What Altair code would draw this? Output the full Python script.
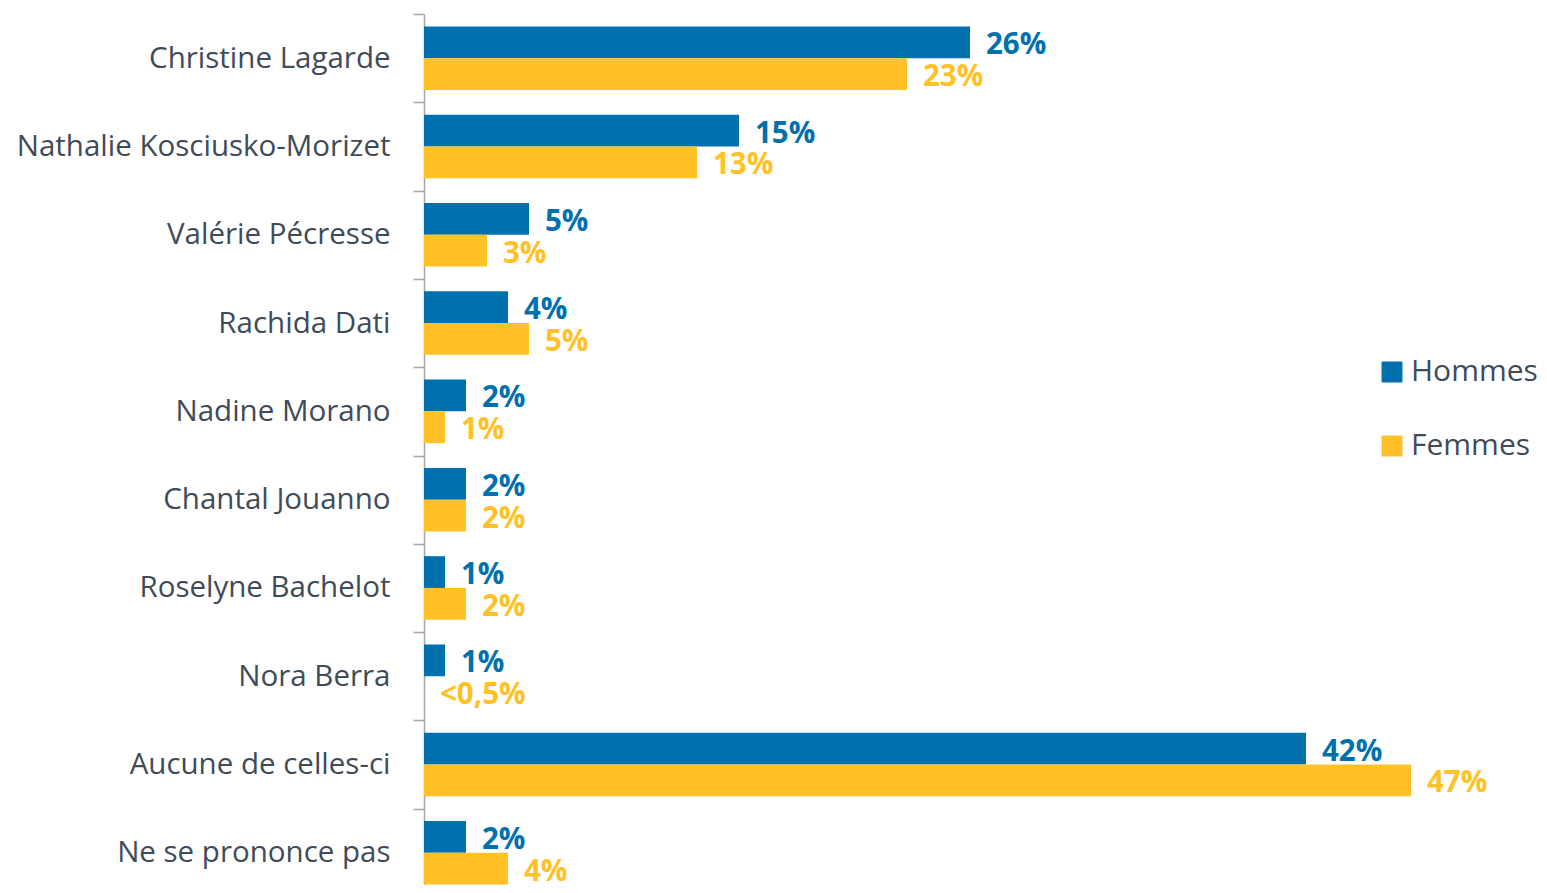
import altair as alt
import pandas as pd

categories = ["Christine Lagarde", "Nathalie Kosciusko-Morizet", "Valérie Pécresse",
              "Rachida Dati", "Nadine Morano", "Chantal Jouanno", "Roselyne Bachelot\u00a0",
              "Nora Berra", "Aucune de celles-ci", "Ne se prononce pas"]
hommes = [26, 15, 5, 4, 2, 2, 1, 1, 42, 2]
femmes = [23, 13, 3, 5, 1, 2, 2, 0, 47, 4]
hommes_labels = ["26%", "15%", "5%", "4%", "2%", "2%", "1%", "1%", "42%", "2%"]
femmes_labels = ["23%", "13%", "3%", "5%", "1%", "2%", "2%", "<0,5%", "47%", "4%"]
series = ["Hommes", "Femmes"]

rows = []
for i, c in enumerate(categories):
    rows.append({"cat": c, "serie": "Hommes", "val": hommes[i], "lab": hommes_labels[i]})
    rows.append({"cat": c, "serie": "Femmes", "val": femmes[i], "lab": femmes_labels[i]})
df = pd.DataFrame(rows)

BLUE = "#0070AE"
YELLOW = "#FFC125"
FONT = "Open Sans"

y = alt.Y("cat:N", sort=categories, title=None,
          scale=alt.Scale(paddingInner=0, paddingOuter=0, range=[0, 883]),
          axis=alt.Axis(domainColor="#A6A6A6", domainWidth=1.5, tickColor="#A6A6A6",
                        tickWidth=1.5, tickSize=11, tickBand="extent",
                        labelFont=FONT, labelFontSize=29.5, labelColor="#404B57",
                        labelPadding=23, labelLimit=0))
yoff = alt.YOffset("serie:N", sort=series,
                   scale=alt.Scale(paddingOuter=0.39, paddingInner=0))
x = alt.X("val:Q", axis=None, scale=alt.Scale(domain=[0, 52], nice=False))
color = alt.Color("serie:N", sort=series,
                  scale=alt.Scale(domain=series, range=[BLUE, YELLOW]),
                  legend=alt.Legend(title=None, orient="none", legendX=953, legendY=343,
                                    symbolType="square", symbolSize=440,
                                    symbolStrokeWidth=0, labelFont=FONT,
                                    labelFontSize=30, labelColor="#404B57",
                                    labelOffset=4, rowPadding=44, padding=0))

bars = alt.Chart(df).mark_bar().encode(y=y, yOffset=yoff, x=x, color=color)
texts = alt.Chart(df).mark_text(align="left", baseline="middle", dx=16, dy=3,
                                font=FONT, fontSize=29.5, fontWeight="bold").encode(
    y=y, yOffset=yoff, x=x, text="lab:N",
    color=alt.Color("serie:N", sort=series,
                    scale=alt.Scale(domain=series, range=[BLUE, YELLOW]), legend=None))

chart = alt.layer(bars, texts).properties(
    width=1092, height=871,
    autosize=alt.AutoSizeParams(type="none"),
    padding={"left": 416, "top": 6, "right": 23, "bottom": 0},
    background="white",
).configure_view(stroke=None)

chart.save("out.html", embed_options={"renderer": "svg", "actions": False})
